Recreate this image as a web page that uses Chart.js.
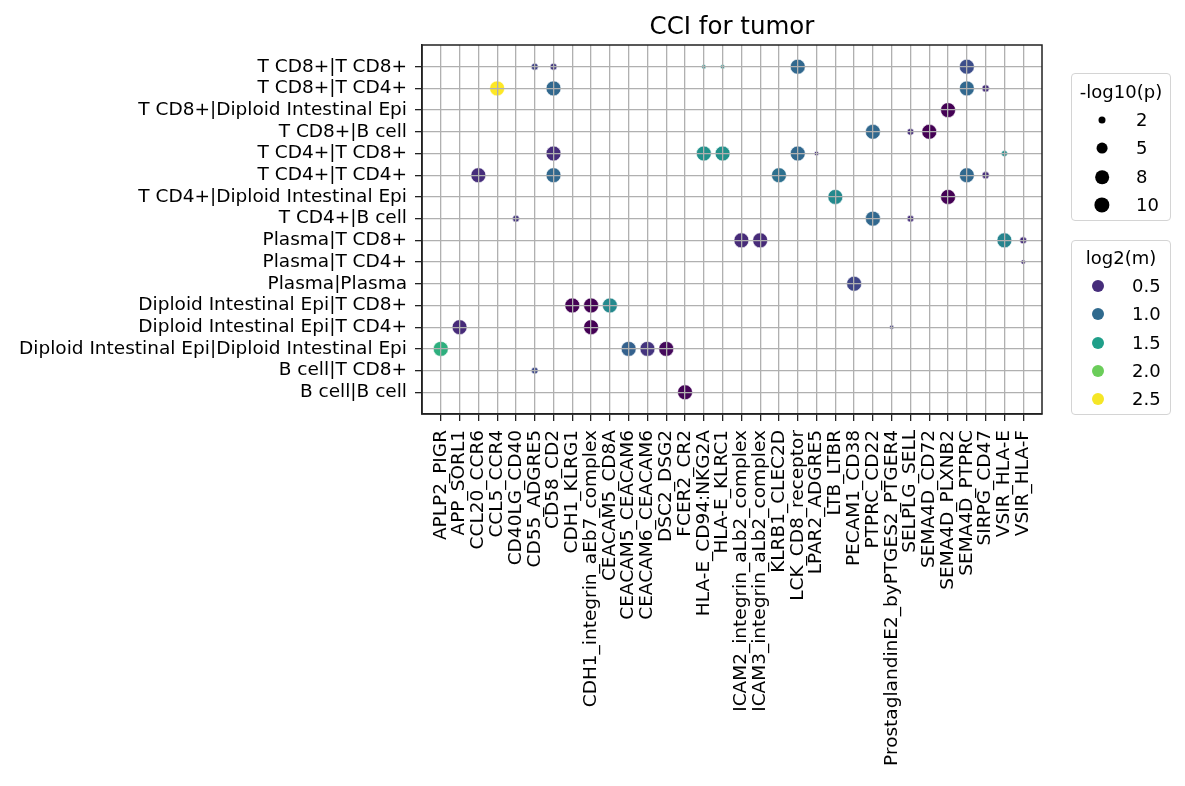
<!DOCTYPE html>
<html>
<head>
<meta charset="utf-8">
<title>CCI for tumor</title>
<script src="https://cdn.jsdelivr.net/npm/chart.js@4.4.1/dist/chart.umd.min.js"></script>
<style>
  body { margin: 0; background: #fff; }
  #wrap { position: relative; width: 1185px; height: 786px; font-family: "DejaVu Sans", sans-serif; color: #000; }
  canvas { position: absolute; left: 0; top: 0; }
  .legend { position: absolute; left: 1071px; width: 100px; box-sizing: border-box;
            border: 1.3px solid #d4d4d4; border-radius: 4px; background: #fff; }
  .legend span { position: absolute; font-size: 18px; line-height: 1; transform: translateY(-50%); white-space: nowrap; }
  .legend .ttl { left: 0; width: 100%; text-align: center; }
  .legend .dot { border-radius: 50%; transform: translate(-50%, -50%); }
</style>
</head>
<body>
<div id="wrap">
  <canvas id="chart" width="1185" height="786"></canvas>
  <div class="legend" id="sizeLegend" style="top:73px;height:148px"></div>
  <div class="legend" id="colorLegend" style="top:240px;height:175px"></div>
</div>
<script>
// cell pairs (y axis, top to bottom)
const pairs = [
  "T CD8+|T CD8+", "T CD8+|T CD4+", "T CD8+|Diploid Intestinal Epi", "T CD8+|B cell",
  "T CD4+|T CD8+", "T CD4+|T CD4+", "T CD4+|Diploid Intestinal Epi", "T CD4+|B cell",
  "Plasma|T CD8+", "Plasma|T CD4+", "Plasma|Plasma", "Diploid Intestinal Epi|T CD8+",
  "Diploid Intestinal Epi|T CD4+", "Diploid Intestinal Epi|Diploid Intestinal Epi",
  "B cell|T CD8+", "B cell|B cell"
];

// ligand_receptor pairs (x axis)
const interactions = [
  "APLP2_PIGR", "APP_SORL1", "CCL20_CCR6", "CCL5_CCR4", "CD40LG_CD40", "CD55_ADGRE5",
  "CD58_CD2", "CDH1_KLRG1", "CDH1_integrin_aEb7_complex", "CEACAM5_CD8A",
  "CEACAM5_CEACAM6", "CEACAM6_CEACAM6", "DSC2_DSG2", "FCER2_CR2", "HLA-E_CD94:NKG2A",
  "HLA-E_KLRC1", "ICAM2_integrin_aLb2_complex", "ICAM3_integrin_aLb2_complex",
  "KLRB1_CLEC2D", "LCK_CD8_receptor", "LPAR2_ADGRE5", "LTB_LTBR", "PECAM1_CD38",
  "PTPRC_CD22", "ProstaglandinE2_byPTGES2_PTGER4", "SELPLG_SELL", "SEMA4D_CD72",
  "SEMA4D_PLXNB2", "SEMA4D_PTPRC", "SIRPG_CD47", "VSIR_HLA-E", "VSIR_HLA-F"
];

// one entry per dot: interaction index, pair index, log2(m), -log10(p)
const dotInteraction = [5, 6, 14, 15, 19, 28,   3, 6, 28, 29,   27,   23, 25, 26,
  6, 14, 15, 19, 20, 30,   2, 6, 18, 28, 29,   21, 27,   4, 23, 25,   16, 17, 30, 31,
  31,   22,   7, 8, 9,   1, 8, 24,   0, 10, 11, 12,   5,   13];
const dotPair = [0, 0, 0, 0, 0, 0,   1, 1, 1, 1,   2,   3, 3, 3,
  4, 4, 4, 4, 4, 4,   5, 5, 5, 5, 5,   6, 6,   7, 7, 7,   8, 8, 8, 8,
  9,   10,   11, 11, 11,   12, 12, 12,   13, 13, 13, 13,   14,   15];
const dotLog2m = [0.67, 0.6, 1.37, 1.37, 0.98, 0.75,   2.53, 0.98, 0.98, 0.5,   0.2,   0.98, 0.5, 0.2,
  0.5, 1.37, 1.37, 0.98, 0.5, 1.35,   0.5, 0.98, 1.06, 0.98, 0.5,   1.3, 0.2,   0.55, 0.98, 0.5,
  0.48, 0.48, 1.25, 0.5,   0.5,   0.69,   0.2, 0.2, 1.3,   0.48, 0.2, 0.6,   1.67, 0.92, 0.55, 0.25,
  0.72,   0.22];
const dotNlogp = [2.0, 2.0, 0.7, 0.7, 9.6, 9.6,   9.6, 9.6, 9.6, 2.2,   9.6,   9.6, 1.9, 9.6,
  9.6, 9.6, 9.6, 9.6, 0.8, 1.5,   9.6, 9.6, 9.6, 9.6, 2.2,   9.6, 9.6,   1.9, 9.6, 1.9,
  9.6, 9.6, 9.6, 2.0,   0.8,   9.6,   9.6, 9.6, 9.6,   9.6, 9.6, 0.7,   9.6, 9.6, 9.6, 9.6,
  1.9,   9.6];

// legend entries
const sizeTicks = [2, 5, 8, 10];
const colorTicks = [0.5, 1.0, 1.5, 2.0, 2.5];

const FONT = "'DejaVu Sans', sans-serif";

// viridis sampled at 10 even steps
const viridis = ["#440154", "#482878", "#3e4989", "#31688e", "#26828e",
                 "#1f9e89", "#35b779", "#6ece58", "#b5de2b", "#fde725"];
const hueMin = Math.min(...dotLog2m);
const hueMax = Math.max(...dotLog2m);

function hex2rgb(h) {
  return [1, 3, 5].map(i => parseInt(h.slice(i, i + 2), 16));
}
function colorFor(v) {
  let t = (v - hueMin) / (hueMax - hueMin);
  t = Math.min(1, Math.max(0, t)) * (viridis.length - 1);
  const i = Math.min(viridis.length - 2, Math.floor(t));
  const f = t - i;
  const a = hex2rgb(viridis[i]), b = hex2rgb(viridis[i + 1]);
  const c = a.map((x, k) => Math.round(x + (b[k] - x) * f));
  return `rgb(${c[0]},${c[1]},${c[2]})`;
}
// marker area grows linearly with -log10(p)
function radiusFor(v) {
  const area = Math.max(9, 49 + 23 * (v - 2));
  return Math.sqrt(area) / 2;
}

const points = dotInteraction.map((x, i) => ({ x: x, y: dotPair[i] }));

const framePlugin = {
  id: "frame",
  afterDraw(chart) {
    const { ctx, chartArea: a } = chart;
    ctx.save();
    ctx.strokeStyle = "#222";
    ctx.lineWidth = 1.5;
    ctx.strokeRect(a.left, a.top, a.right - a.left, a.bottom - a.top);
    ctx.fillStyle = "#000";
    ctx.font = "24.5px " + FONT;
    ctx.textAlign = "center";
    ctx.textBaseline = "alphabetic";
    ctx.fillText("CCI for tumor", (a.left + a.right) / 2, 34);
    ctx.restore();
  }
};

// grid on top of the dots, like the original
const gridOpts = { z: 1, color: "#b0b0b0", lineWidth: 1.3, tickLength: 7, tickColor: "#222", tickWidth: 1.3 };

new Chart(document.getElementById("chart"), {
  type: "scatter",
  data: {
    datasets: [{
      data: points,
      backgroundColor: dotLog2m.map(colorFor),
      borderColor: "#fff",
      borderWidth: 0.6,
      pointRadius: dotNlogp.map(radiusFor),
      pointHoverRadius: dotNlogp.map(radiusFor)
    }]
  },
  options: {
    responsive: false,
    animation: false,
    devicePixelRatio: 1,
    layout: { padding: { top: 45, right: 143, bottom: 0, left: 0 } },
    plugins: { legend: { display: false }, tooltip: { enabled: false } },
    scales: {
      x: {
        type: "linear", min: -1, max: 32,
        afterBuildTicks: s => { s.ticks = interactions.map((_, i) => ({ value: i })); },
        afterFit: s => { s.height = 372; },
        ticks: {
          autoSkip: false, minRotation: 90, maxRotation: 90, padding: 9,
          color: "#000", font: { family: FONT, size: 18.5 },
          callback: v => interactions[v]
        },
        grid: gridOpts,
        border: { z: 1, color: "#222", width: 1.5 }
      },
      y: {
        type: "linear", min: -1, max: 16, reverse: true,
        afterBuildTicks: s => { s.ticks = pairs.map((_, i) => ({ value: i })); },
        afterFit: s => { s.width = 422; },
        ticks: {
          autoSkip: false, padding: 8,
          color: "#000", font: { family: FONT, size: 18.5 },
          callback: v => pairs[v]
        },
        grid: gridOpts,
        border: { z: 1, color: "#222", width: 1.5 }
      }
    }
  },
  plugins: [framePlugin]
});

// legends
function addSpan(box, cls, text, css) {
  const s = document.createElement("span");
  s.className = cls;
  if (text !== null) s.textContent = text;
  Object.assign(s.style, css);
  box.appendChild(s);
}

const sizeBox = document.getElementById("sizeLegend");
addSpan(sizeBox, "ttl", "-log10(p)", { top: "18px" });
const sizeRows = [46, 74, 103, 131];
sizeTicks.forEach((v, i) => {
  const d = radiusFor(v) * 2;
  addSpan(sizeBox, "dot", null, { left: "30px", top: sizeRows[i] + "px", width: d + "px", height: d + "px", background: "#000" });
  addSpan(sizeBox, "", String(v), { left: "64px", top: sizeRows[i] + "px" });
});

const colorBox = document.getElementById("colorLegend");
addSpan(colorBox, "ttl", "log2(m)", { top: "17px" });
const colorRows = [45, 73, 101.5, 129.5, 158];
colorTicks.forEach((v, i) => {
  addSpan(colorBox, "dot", null, { left: "26px", top: colorRows[i] + "px", width: "12px", height: "12px", background: colorFor(v) });
  addSpan(colorBox, "", v.toFixed(1), { left: "60px", top: colorRows[i] + "px" });
});
</script>
</body>
</html>
